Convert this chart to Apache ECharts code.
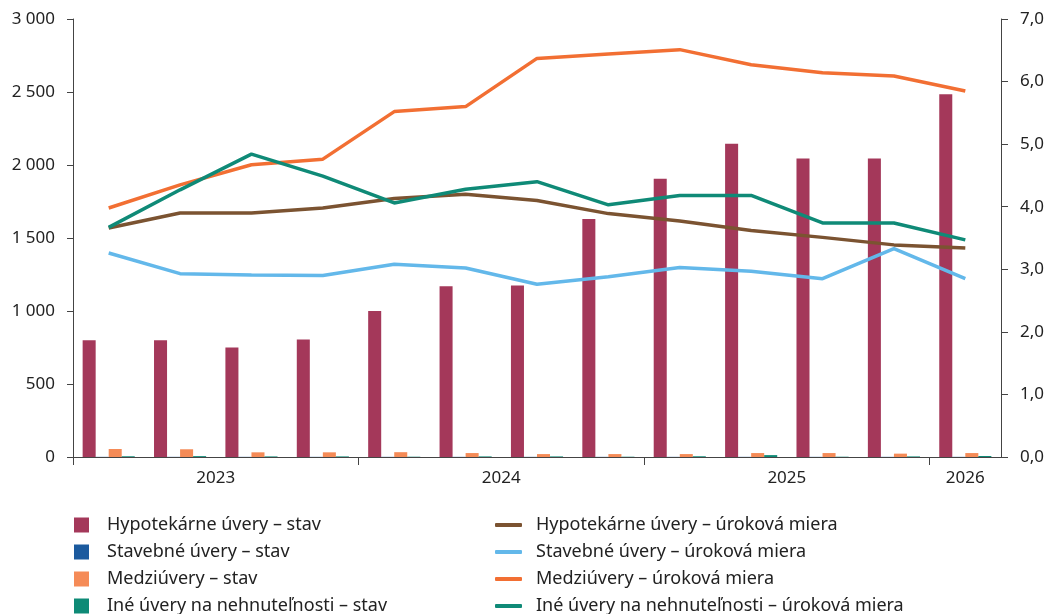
<!DOCTYPE html>
<html>
<head>
<meta charset="utf-8">
<script src="https://cdn.jsdelivr.net/npm/echarts@6/dist/echarts.min.js"></script>
<style>
html,body{margin:0;padding:0;background:#fff;}
#chart{width:1049px;height:614px;}
</style>
</head>
<body>
<div id="chart"></div>
<script>
// ---- data ----
const quarters = ['2023 Q1','2023 Q2','2023 Q3','2023 Q4','2024 Q1','2024 Q2','2024 Q3','2024 Q4','2025 Q1','2025 Q2','2025 Q3','2025 Q4','2026 Q1'];
const years = ['2023','2024','2025','2026'];
const quartersPerYear = [4, 4, 4, 1];

const hypoStav  = [800, 800, 750, 805, 1000, 1170, 1175, 1630, 1905, 2145, 2045, 2045, 2485];
const stavStav  = [1, 1, 1, 1, 1, 1, 1, 1, 1, 1, 1, 1, 1];
const medziStav = [55, 53, 32, 32, 33, 27, 20, 20, 20, 27, 27, 23, 27];
const ineStav   = [5, 6, 4, 4, 2, 4, 4, 2, 5, 13, 2, 4, 7];

const hypoRate  = [3.66, 3.90, 3.90, 3.98, 4.13, 4.20, 4.10, 3.89, 3.77, 3.62, 3.51, 3.39, 3.34];
const stavRate  = [3.26, 2.93, 2.91, 2.90, 3.08, 3.02, 2.76, 2.88, 3.03, 2.97, 2.85, 3.33, 2.85];
const medziRate = [3.98, 4.35, 4.67, 4.76, 5.52, 5.60, 6.37, 6.44, 6.51, 6.27, 6.14, 6.09, 5.85];
const ineRate   = [3.67, 4.27, 4.84, 4.49, 4.06, 4.28, 4.40, 4.03, 4.18, 4.18, 3.74, 3.74, 3.47];

const names = {
  hypoStav: 'Hypotekárne úvery – stav',
  stavStav: 'Stavebné úvery – stav',
  medziStav: 'Medziúvery – stav',
  ineStav: 'Iné úvery na nehnuteľnosti – stav',
  hypoRate: 'Hypotekárne úvery – úroková miera',
  stavRate: 'Stavebné úvery – úroková miera',
  medziRate: 'Medziúvery – úroková miera',
  ineRate: 'Iné úvery na nehnuteľnosti – úroková miera'
};

// year group boundaries and centres (in category units)
const yearBounds = [];
const yearCenters = [];
let acc = 0;
quartersPerYear.forEach(n => { yearBounds.push(acc); yearCenters.push(acc + n / 2); acc += n; });

const FONT = 'Noto Sans';
const TXT = '#222';
const AX = '#444';

const chart = echarts.init(document.getElementById('chart'));
const barS = (name, data, color) => ({
  name, type: 'bar', data, xAxisIndex: 0, yAxisIndex: 0,
  itemStyle: { color }, barGap: '0%', barCategoryGap: '27%'
});
const lineS = (name, data, color) => ({
  name, type: 'line', data, xAxisIndex: 0, yAxisIndex: 1,
  symbol: 'none', lineStyle: { color, width: 3.5 }, itemStyle: { color }
});

chart.setOption({
  animation: false,
  backgroundColor: '#fff',
  textStyle: { fontFamily: FONT },
  grid: { left: 73, right: 48, top: 19, bottom: 157 },
  xAxis: [
    {
      type: 'category', data: quarters, boundaryGap: true,
      axisLine: { show: true, lineStyle: { color: AX, width: 1 } },
      axisTick: { show: false }, axisLabel: { show: false }
    },
    {
      type: 'value', min: 0, max: quarters.length, position: 'bottom',
      splitLine: { show: false },
      axisLine: { show: false },
      axisTick: { show: true, customValues: yearBounds, length: 8, lineStyle: { color: AX } },
      axisLabel: {
        show: true, customValues: yearCenters, margin: 13,
        color: TXT, fontSize: 17, fontFamily: FONT,
        formatter: v => { const i = yearCenters.indexOf(v); return i >= 0 ? years[i] : ''; }
      }
    }
  ],
  yAxis: [
    {
      type: 'value', min: 0, max: 3000, interval: 500, position: 'left',
      splitLine: { show: false },
      axisLine: { show: true, lineStyle: { color: AX } },
      axisTick: { show: true, length: 6, lineStyle: { color: AX } },
      axisLabel: {
        color: TXT, fontSize: 17, fontFamily: FONT, margin: 18,
        formatter: v => String(v).replace(/\B(?=(\d{3})+(?!\d))/g, ' ')
      }
    },
    {
      type: 'value', min: 0, max: 7, interval: 1, position: 'right',
      splitLine: { show: false },
      axisLine: { show: true, lineStyle: { color: AX } },
      axisTick: { show: true, length: 7, lineStyle: { color: AX } },
      axisLabel: {
        color: TXT, fontSize: 17, fontFamily: FONT, margin: 19,
        formatter: v => v.toFixed(1).replace('.', ',')
      }
    }
  ],
  legend: [
    {
      orient: 'vertical', left: 69, top: 511, height: 140, itemGap: 9,
      icon: 'rect', itemWidth: 15, itemHeight: 15,
      textStyle: { color: TXT, fontSize: 18, fontFamily: FONT, lineHeight: 18, padding: [0, 0, 0, 13] },
      data: [names.hypoStav, names.stavStav, names.medziStav, names.ineStav]
    },
    {
      orient: 'vertical', left: 490, top: 511, height: 140, itemGap: 9,
      icon: 'roundRect', itemWidth: 27, itemHeight: 4,
      textStyle: { color: TXT, fontSize: 18, fontFamily: FONT, lineHeight: 18, padding: [0, 0, 0, 9] },
      data: [names.hypoRate, names.stavRate, names.medziRate, names.ineRate]
    }
  ],
  series: [
    barS(names.hypoStav, hypoStav, '#A4385A'),
    barS(names.stavStav, stavStav, '#1B5A9E'),
    barS(names.medziStav, medziStav, '#F58B57'),
    barS(names.ineStav, ineStav, '#0E8A76'),
    lineS(names.hypoRate, hypoRate, '#7B5331'),
    lineS(names.stavRate, stavRate, '#63B8EA'),
    lineS(names.medziRate, medziRate, '#F26F33'),
    lineS(names.ineRate, ineRate, '#0F8A77')
  ]
});
</script>
</body>
</html>
